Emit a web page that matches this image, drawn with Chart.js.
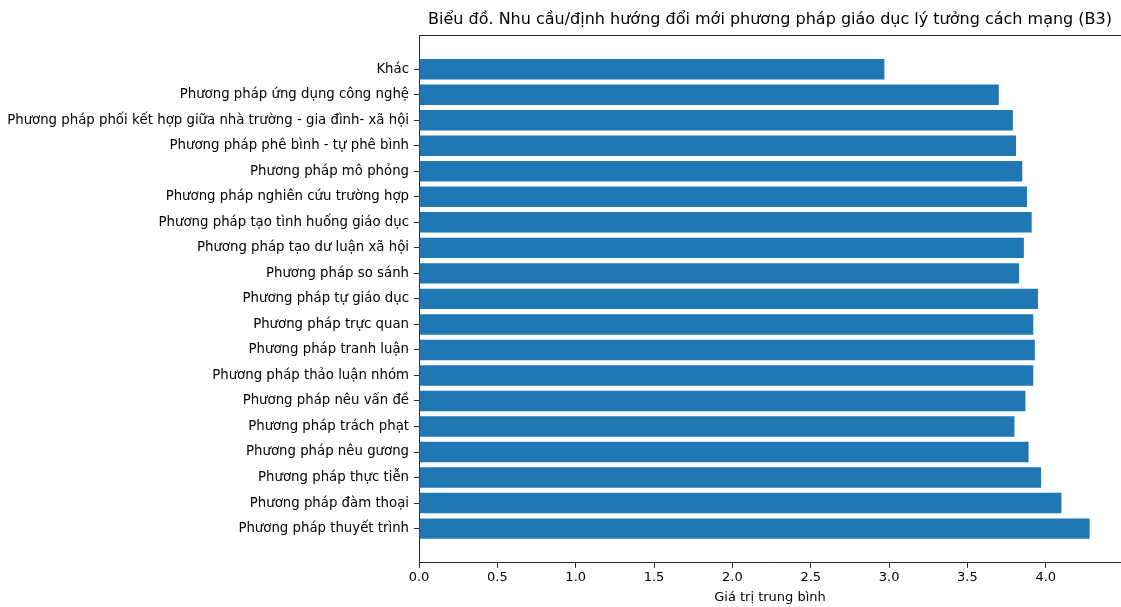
<!DOCTYPE html>
<html>
<head>
<meta charset="utf-8">
<script src="https://cdn.jsdelivr.net/npm/chart.js@4/dist/chart.umd.min.js"></script>
<style>
  html, body { margin: 0; padding: 0; background: #fff; }
  #wrap { width: 1121px; height: 607px; }
</style>
</head>
<body>
<div id="wrap"><canvas id="chart"></canvas></div>
<script>
// categories listed top to bottom as in the picture
const categories = [
    "Khác",
    "Phương pháp ứng dụng công nghệ",
    "Phương pháp phối kết hợp giữa nhà trường - gia đình- xã hội",
    "Phương pháp phê bình - tự phê bình",
    "Phương pháp mô phỏng",
    "Phương pháp nghiên cứu trường hợp",
    "Phương pháp tạo tình huống giáo dục",
    "Phương pháp tạo dư luận xã hội",
    "Phương pháp so sánh",
    "Phương pháp tự giáo dục",
    "Phương pháp trực quan",
    "Phương pháp tranh luận",
    "Phương pháp thảo luận nhóm",
    "Phương pháp nêu vấn đề",
    "Phương pháp trách phạt",
    "Phương pháp nêu gương",
    "Phương pháp thực tiễn",
    "Phương pháp đàm thoại",
    "Phương pháp thuyết trình"
];
const meanValues = [2.97, 3.70, 3.79, 3.81, 3.85, 3.88, 3.91, 3.86, 3.83, 3.95,
                    3.92, 3.93, 3.92, 3.87, 3.80, 3.89, 3.97, 4.10, 4.28];
const xTicks = [0.0, 0.5, 1.0, 1.5, 2.0, 2.5, 3.0, 3.5, 4.0];
const chartTitle = "Biểu đồ. Nhu cầu/định hướng đổi mới phương pháp giáo dục lý tưởng cách mạng (B3)";
const xLabel = "Giá trị trung bình";

const FONT = "'DejaVu Sans', sans-serif";
const INK = "#262626";

const points = meanValues.map((v, i) => ({x: v, y: i}));

// top spine + title centred over the plot area, like matplotlib does
const frame = {
    id: 'frame',
    afterDraw(chart) {
        const {ctx, chartArea} = chart;
        ctx.save();
        ctx.strokeStyle = INK;
        ctx.lineWidth = 1;
        ctx.beginPath();
        ctx.moveTo(chartArea.left, chartArea.top + 0.5);
        ctx.lineTo(chartArea.right, chartArea.top + 0.5);
        ctx.stroke();
        ctx.fillStyle = "#000";
        ctx.font = "16px " + FONT;
        ctx.textAlign = 'center';
        ctx.textBaseline = 'alphabetic';
        ctx.fillText(chartTitle, (chartArea.left + chartArea.right) / 2, chartArea.top - 11);
        ctx.restore();
    }
};

new Chart(document.getElementById('chart'), {
    type: 'bar',
    data: {
        datasets: [{
            data: points,
            backgroundColor: '#1f77b4',
            borderWidth: 0,
            barPercentage: 0.8,
            categoryPercentage: 1.0
        }]
    },
    options: {
        indexAxis: 'y',
        responsive: true,
        maintainAspectRatio: false,
        animation: false,
        layout: {padding: {top: 35, right: 0, left: 0, bottom: 0}},
        plugins: {
            legend: {display: false},
            tooltip: {enabled: false},
            title: {display: false}
        },
        scales: {
            x: {
                type: 'linear',
                min: 0,
                max: 4.48,
                afterBuildTicks: (axis) => {
                    axis.ticks = xTicks.map(v => ({value: v}));
                },
                ticks: {
                    color: "#000",
                    font: {family: FONT, size: 13},
                    padding: 2,
                    callback: (v) => Number(v).toFixed(1)
                },
                grid: {display: true, drawOnChartArea: false, tickLength: 5, color: INK},
                border: {display: true, color: INK, width: 1},
                title: {
                    display: true,
                    text: xLabel,
                    color: "#000",
                    font: {family: FONT, size: 13},
                    padding: {top: 2, bottom: 2}
                }
            },
            y: {
                type: 'linear',
                reverse: true,
                offset: false,
                min: -1.34,
                max: categories.length - 1 + 1.34,
                afterBuildTicks: (axis) => {
                    axis.ticks = categories.map((c, i) => ({value: i}));
                },
                afterFit: (axis) => { axis.width = 419; },
                ticks: {
                    autoSkip: false,
                    color: "#000",
                    font: {family: FONT, size: 13.3},
                    padding: 5,
                    callback: (v) => categories[v] ?? ''
                },
                grid: {display: true, offset: false, drawOnChartArea: false, tickLength: 5, color: INK},
                border: {display: true, color: INK, width: 1}
            }
        }
    },
    plugins: [frame]
});
</script>
</body>
</html>
